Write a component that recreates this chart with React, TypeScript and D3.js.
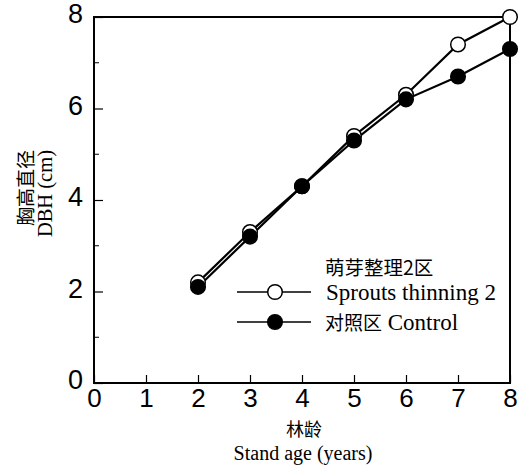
import React, { useEffect, useRef } from 'react';
import * as d3 from 'd3';

const ages = [2, 3, 4, 5, 6, 7, 8];
const sproutsDbh = [2.2, 3.3, 4.3, 5.4, 6.3, 7.4, 8.0];
const controlDbh = [2.1, 3.2, 4.3, 5.3, 6.2, 6.7, 7.3];
const xTicks = [0, 1, 2, 3, 4, 5, 6, 7, 8];
const yTicks = [0, 2, 4, 6, 8];
const yMinor = [1, 3, 5, 7];

const App = () => {
  const svgRef = useRef<SVGSVGElement>(null);

  useEffect(() => {
    const svg = d3.select(svgRef.current);
    svg.selectAll('*').remove();

    const left = 94, right = 510, top = 17, bottom = 383;
    const x = d3.scaleLinear().domain([0, 8]).range([left, right]);
    const y = d3.scaleLinear().domain([0, 8]).range([bottom, top]);

    const tickFont = '"Liberation Sans", Arial, sans-serif';
    const serif = '"Liberation Serif", "Times New Roman", serif';
    const cjk = '"Noto Sans CJK SC", sans-serif';

    // frame
    svg.append('rect')
      .attr('x', left).attr('y', top)
      .attr('width', right - left).attr('height', bottom - top)
      .attr('fill', 'none').attr('stroke', '#000').attr('stroke-width', 2);

    // axes, ticks pointing inward
    const xAxis = svg.append('g')
      .attr('transform', `translate(0,${bottom})`)
      .call(d3.axisBottom(x).tickValues(xTicks).tickSizeInner(-8).tickSizeOuter(0).tickPadding(6));
    xAxis.select('.domain').remove();
    xAxis.selectAll('text').attr('font-size', 26).attr('font-family', tickFont).attr('fill', '#000');
    xAxis.selectAll('line').attr('stroke-width', 1.2);

    const yAxis = svg.append('g')
      .attr('transform', `translate(${left},0)`)
      .call(d3.axisLeft(y).tickValues(yTicks).tickSizeInner(-9).tickSizeOuter(0).tickPadding(11));
    yAxis.select('.domain').remove();
    yAxis.selectAll('text').attr('font-size', 27).attr('font-family', tickFont).attr('fill', '#000').attr('dy', '0.22em');
    yAxis.selectAll('line').attr('stroke-width', 1.2);

    svg.append('g')
      .selectAll('line')
      .data(yMinor)
      .enter()
      .append('line')
      .attr('x1', left).attr('x2', left + 5)
      .attr('y1', d => y(d)).attr('y2', d => y(d))
      .attr('stroke', '#000').attr('stroke-width', 1);

    const line = d3.line<number>()
      .x((d, i) => x(ages[i]))
      .y(d => y(d));

    const series = [
      { values: controlDbh, fill: '#000' },
      { values: sproutsDbh, fill: '#fff' },
    ];

    series.forEach(s => {
      svg.append('path')
        .datum(s.values)
        .attr('d', line)
        .attr('fill', 'none')
        .attr('stroke', '#000')
        .attr('stroke-width', 2.2);
    });

    series.slice().reverse().forEach(s => {
      svg.append('g')
        .selectAll('circle')
        .data(s.values)
        .enter()
        .append('circle')
        .attr('cx', (d, i) => x(ages[i]))
        .attr('cy', d => y(d))
        .attr('r', 7.3)
        .attr('fill', s.fill)
        .attr('stroke', '#000')
        .attr('stroke-width', 1.5);
    });

    // legend
    svg.append('text')
      .attr('x', 325).attr('y', 275)
      .attr('font-family', cjk).attr('font-size', 19.5).attr('fill', '#000')
      .text('萌芽整理2区');

    const legend = [
      { y: 292, fill: '#fff', cn: '', en: 'Sprouts thinning 2' },
      { y: 322, fill: '#000', cn: '对照区', en: ' Control' },
    ];
    legend.forEach(l => {
      svg.append('line')
        .attr('x1', 237).attr('x2', 311)
        .attr('y1', l.y).attr('y2', l.y)
        .attr('stroke', '#000').attr('stroke-width', 1.5);
      svg.append('circle')
        .attr('cx', 275).attr('cy', l.y).attr('r', 7.3)
        .attr('fill', l.fill).attr('stroke', '#000').attr('stroke-width', 1.5);
      const t = svg.append('text')
        .attr('x', l.cn ? 325 : 326).attr('y', l.y + 8)
        .attr('fill', '#000');
      if (l.cn) t.append('tspan').attr('font-family', cjk).attr('font-size', 19).text(l.cn);
      t.append('tspan').attr('font-family', serif).attr('font-size', 23).text(l.en);
    });

    // axis titles
    svg.append('text')
      .attr('x', (left + right) / 2 + 2).attr('y', 435.5)
      .attr('text-anchor', 'middle')
      .attr('font-family', cjk).attr('font-size', 18).attr('fill', '#000')
      .text('林龄');
    svg.append('text')
      .attr('x', (left + right) / 2 + 1).attr('y', 459.5)
      .attr('text-anchor', 'middle')
      .attr('font-family', serif).attr('font-size', 20).attr('fill', '#000')
      .text('Stand age (years)');

    svg.append('text')
      .attr('transform', 'translate(33,150) rotate(-90)')
      .attr('text-anchor', 'end')
      .attr('font-family', cjk).attr('font-size', 19).attr('fill', '#000')
      .text('胸高直径');
    svg.append('text')
      .attr('transform', 'translate(52,150) rotate(-90)')
      .attr('text-anchor', 'end')
      .attr('font-family', serif).attr('font-size', 20.5).attr('fill', '#000')
      .text('DBH (cm)');
  }, []);

  return (
    <svg ref={svgRef} width={524} height={467} style={{ position: 'absolute', left: 0, top: 0, background: '#fff' }}></svg>
  );
};

export default App;
